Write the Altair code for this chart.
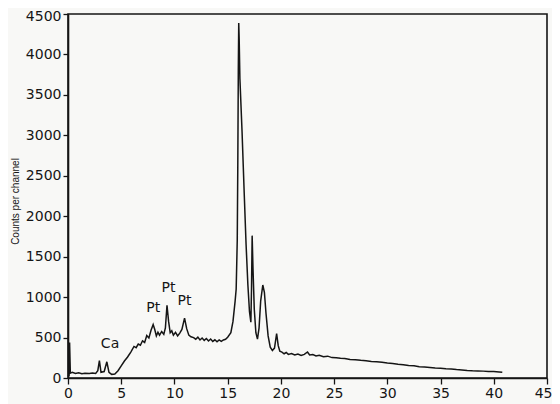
import altair as alt
import pandas as pd

# Spectrum (channel energy vs counts)
energy = [0.0, 0.1, 0.15, 0.22, 0.4, 0.7, 1.0, 1.3, 1.6, 2.0, 2.3, 2.6, 2.8, 2.95, 3.1, 3.4, 3.65, 3.85,
          4.1, 4.4, 4.7, 5.0, 5.3, 5.6, 5.9, 6.2, 6.4, 6.6, 6.8, 7.0, 7.2, 7.4, 7.6, 7.8, 8.0, 8.15, 8.3,
          8.45, 8.6, 8.8, 9.0, 9.15, 9.3, 9.45, 9.6, 9.75, 9.9, 10.1, 10.3, 10.5, 10.7, 10.95, 11.15,
          11.35, 11.55, 11.8, 12.0, 12.2, 12.4, 12.6, 12.8, 13.0, 13.2, 13.4, 13.6, 13.8, 14.0, 14.2,
          14.4, 14.6, 14.8, 15.0, 15.3, 15.5, 15.7, 15.8, 15.9, 15.95, 16.0, 16.04, 16.08, 16.15, 16.35,
          16.55, 16.73, 16.9, 17.05, 17.18, 17.24, 17.3, 17.38, 17.5, 17.65, 17.8, 17.95, 18.1, 18.3,
          18.45, 18.6, 18.8, 19.0, 19.2, 19.4, 19.6, 19.75, 19.9, 20.1, 20.3, 20.5, 20.7, 21.0, 21.3,
          21.6, 21.9, 22.2, 22.5, 22.7, 23.0, 23.3, 23.6, 24.0, 24.4, 24.8, 25.2, 25.6, 26.0, 26.5,
          27.0, 27.5, 28.0, 28.5, 29.0, 29.5, 30.0, 30.5, 31.0, 31.5, 32.0, 32.5, 33.0, 33.5, 34.0,
          34.5, 35.0, 35.5, 36.0, 36.5, 37.0, 37.5, 38.0, 38.5, 39.0, 39.5, 40.0, 40.5, 40.8]
counts = [20, 30, 440, 60, 70, 55, 65, 52, 60, 55, 62, 55, 90, 215, 70, 80, 200, 70,
          45, 50, 90, 150, 210, 260, 320, 390, 375, 420, 405, 460, 440, 525, 495, 590, 660, 600, 520,
          565, 530, 575, 540, 620, 900, 700, 560, 585, 530, 565, 520, 555, 600, 740, 610,
          530, 510, 500, 480, 505, 470, 495, 465, 488, 458, 482, 452, 472, 448, 470,
          452, 470, 478, 505, 560, 700, 950, 1100, 1700, 2600, 3800, 4390, 4200, 3700, 3050,
          2300, 1650, 1150, 820, 690, 1100, 1760, 1350, 850, 560, 480, 620, 950, 1150,
          1060, 800, 520, 380, 340, 370, 550, 400, 330, 320, 300, 315, 292, 302, 284,
          296, 278, 292, 322, 284, 290, 272, 282, 262, 270, 252, 250, 244, 240, 230,
          226, 218, 212, 204, 200, 194, 186, 180, 170, 165, 155, 150, 140, 135, 130,
          124, 120, 114, 110, 104, 100, 94, 90, 88, 85, 80, 80, 74, 70]

label_text = ["Ca", "Pt", "Pt", "Pt"]
label_x = [3.95, 8.0, 9.45, 10.95]
label_y = [330, 775, 1020, 860]

x_ticks = [0, 5, 10, 15, 20, 25, 30, 35, 40, 45]
y_ticks = [0, 500, 1000, 1500, 2000, 2500, 3000, 3500, 4000, 4500]

spec = pd.DataFrame({"energy": energy, "counts": counts})
labels = pd.DataFrame({"t": label_text, "x": label_x, "y": label_y})

FONT = "DejaVu Sans"
INK = "#151515"

x_enc = alt.X("energy:Q", scale=alt.Scale(domain=[0, 45], nice=False),
              axis=alt.Axis(values=x_ticks, format="d", title=None, grid=False, labelFontSize=14,
                            labelFont=FONT, labelColor=INK, domainColor=INK,
                            tickColor=INK, tickSize=6, domainWidth=1.6, tickWidth=1.3,
                            labelPadding=2, labelFlush=False,
                            labelAlign={"expr": "datum.value == 45 ? 'right' : 'center'"},
                            labelOffset={"expr": "datum.value == 45 ? 5 : 0"}))
y_enc = alt.Y("counts:Q", scale=alt.Scale(domain=[0, 4500], nice=False),
              axis=alt.Axis(values=y_ticks, format="d", title="Counts per channel", grid=False,
                            labelFontSize=14, labelFont=FONT, labelColor=INK,
                            domainColor=INK, tickColor=INK, tickSize=5,
                            domainWidth=1.6, tickWidth=1.3, labelPadding=2,
                            labelOffset={"expr": "datum.value == 4500 ? 2 : 0"},
                            titleFontSize=10, titleFont="Liberation Sans", titleFontWeight="normal",
                            titleColor=INK, titlePadding=5, titleY=187, labelFlush=False))

line = alt.Chart(spec).mark_line(color=INK, strokeWidth=1.5).encode(x=x_enc, y=y_enc)

text = alt.Chart(labels).mark_text(fontSize=14, font=FONT, color=INK, baseline="bottom").encode(
    x=alt.X("x:Q"), y=alt.Y("y:Q"), text="t:N")

chart = (line + text).properties(
    width=479, height=364,
    autosize=alt.AutoSizeParams(type="none"),
    padding={"left": 60, "top": 6, "right": 5, "bottom": 30},
    background="#f8f8f6",
).configure_view(stroke=INK, strokeWidth=1.6)

chart.save("out.html", embed_options={"renderer": "svg", "actions": False})
